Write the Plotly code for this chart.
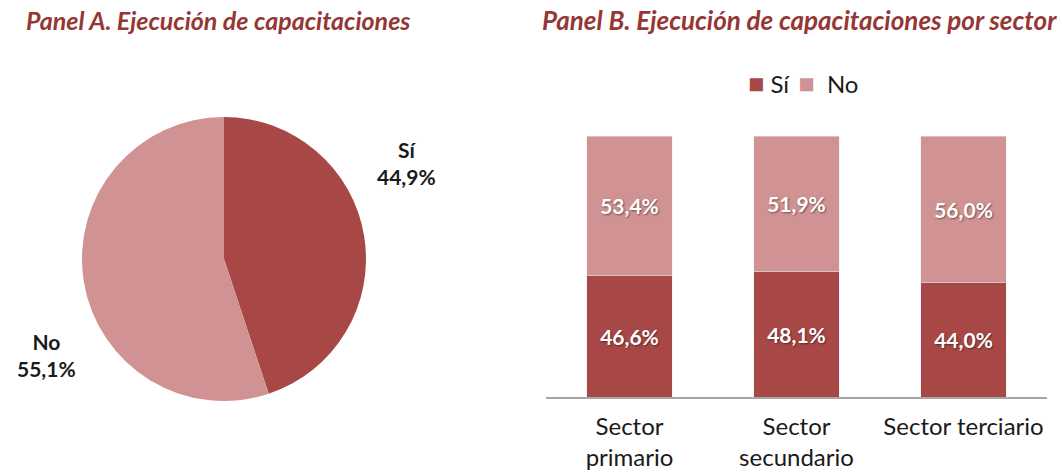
import plotly.graph_objects as go

# Panel A
pie_labels = ["Sí", "No"]
pie_values = [44.9, 55.1]

# Panel B
sectors = ["Sector<br>primario", "Sector<br>secundario", "Sector terciario"]
si_share = [0.466, 0.481, 0.440]
no_share = [0.534, 0.519, 0.560]

DARK = "#A84846"
LIGHT = "#D09292"
TITLE = "#953735"
FONT = "Lato"

fig = go.Figure()

fig.add_trace(go.Pie(
    labels=pie_labels, values=pie_values,
    marker=dict(colors=[DARK, LIGHT], line=dict(width=0)),
    sort=False, direction="clockwise", rotation=0,
    textinfo="none", hoverinfo="label+percent",
    showlegend=False,
    domain=dict(x=[82/1062, 366/1062], y=[73/474, 357/474]),
))

bar_text = dict(color="white", size=21, family=FONT, weight="bold",
                shadow="1px 1px 2px rgba(0,0,0,0.45)")
fig.add_trace(go.Bar(
    x=sectors, y=si_share, name="Sí", marker_color=DARK,
    texttemplate="%{y:.1%}", textposition="inside", insidetextanchor="middle",
    textfont=bar_text, xaxis="x", yaxis="y", showlegend=False,
))
fig.add_trace(go.Bar(
    x=sectors, y=no_share, name="No", marker_color=LIGHT,
    texttemplate="%{y:.1%}", textposition="inside", insidetextanchor="middle",
    textfont=bar_text, xaxis="x", yaxis="y", showlegend=False,
))

# pie labels placed like the original (outside the slices)
pie_pos = [(406/1062, (474-163)/474), (46/1062, (474-355)/474)]
for lab, val, (px_, py_) in zip(pie_labels, pie_values, pie_pos):
    fig.add_annotation(
        x=px_, y=py_, xref="paper", yref="paper", showarrow=False,
        xanchor="center", yanchor="middle",
        text=f"<b>{lab}<br>{val:.1f}%</b>".replace(".", ","),
        font=dict(size=21, color="#1a1a1a", family=FONT), align="center",
    )

# compact legend like the original (square swatch + label)
sq = "<span style='color:{};font-size:27px'>■</span>"
legend_txt = (sq.format(DARK) + f" {pie_labels[0]} \u2009" +
              sq.format(LIGHT) + f"  {pie_labels[1]}")
fig.add_annotation(x=746/1062, y=1 - 82/474, xref="paper", yref="paper",
                   xanchor="left", yanchor="middle", showarrow=False,
                   text=legend_txt, font=dict(size=24, color="#1a1a1a", family=FONT))

fig.add_annotation(x=24/1062, y=1 - 20/474, xref="paper", yref="paper",
                   xanchor="left", yanchor="middle", showarrow=False,
                   text="<b><i>Panel A. Ejecución de capacitaciones</i></b>",
                   font=dict(size=25, color=TITLE, family=FONT))
fig.add_annotation(x=540/1062, y=1 - 20/474, xref="paper", yref="paper",
                   xanchor="left", yanchor="middle", showarrow=False,
                   text="<b><i>Panel B. Ejecución de capacitaciones por sector</i></b>",
                   font=dict(size=26, color=TITLE, family=FONT))

fig.update_layout(
    width=1062, height=474,
    margin=dict(l=0, r=0, t=0, b=0),
    paper_bgcolor="white", plot_bgcolor="white",
    barmode="stack", bargap=0.49,
    separators=",.",
    showlegend=False,
    font=dict(family=FONT, color="#1a1a1a"),
    xaxis=dict(domain=[546/1062, 1047/1062], showline=True, linecolor="#a6a6a6",
               linewidth=1.5, ticks="", tickfont=dict(size=24), showgrid=False,
               ticklabelstandoff=7, automargin=False),
    yaxis=dict(domain=[77/474, 338/474], range=[0, 1], visible=False,
               automargin=False),
)

fig.write_html("out.html", config={"displayModeBar": False},
               post_script="document.body.style.margin='0';")
